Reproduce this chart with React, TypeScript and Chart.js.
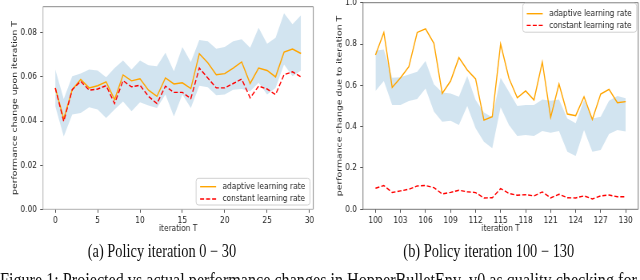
import React, { useEffect, useRef } from "react";
import { Chart, registerables } from "chart.js";
Chart.register(...registerables);

// ---------- data: panel (a) ----------
const iterA = [0, 1, 2, 3, 4, 5, 6, 7, 8, 9, 10, 11, 12, 13, 14, 15, 16, 17, 18, 19, 20, 21, 22, 23, 24, 25, 26, 27, 28, 29];
const adaptiveA = [0.055, 0.041, 0.0542, 0.0588, 0.055, 0.056, 0.0577, 0.0497, 0.0609, 0.0582, 0.0591, 0.054, 0.0512, 0.0595, 0.0568, 0.0573, 0.0547, 0.0705, 0.0664, 0.061, 0.0615, 0.064, 0.0668, 0.057, 0.064, 0.0629, 0.06, 0.0712, 0.0726, 0.0706];
const constantA = [0.055, 0.0398, 0.0542, 0.058, 0.054, 0.0545, 0.056, 0.0479, 0.0583, 0.0555, 0.0562, 0.0512, 0.0479, 0.0558, 0.053, 0.053, 0.0502, 0.064, 0.0595, 0.055, 0.055, 0.057, 0.059, 0.0505, 0.0558, 0.0545, 0.052, 0.061, 0.0623, 0.06];
const upperA = [0.0633, 0.05, 0.0603, 0.0615, 0.0633, 0.0629, 0.0598, 0.064, 0.0674, 0.0633, 0.0674, 0.0653, 0.0648, 0.0709, 0.0626, 0.0735, 0.0667, 0.0767, 0.0762, 0.0727, 0.0735, 0.0762, 0.077, 0.0732, 0.0823, 0.075, 0.0777, 0.0888, 0.0838, 0.0879];
const lowerA = [0.0467, 0.033, 0.0429, 0.0436, 0.0462, 0.0452, 0.0414, 0.0452, 0.0489, 0.0444, 0.0485, 0.047, 0.0459, 0.052, 0.0421, 0.052, 0.0459, 0.056, 0.0553, 0.0517, 0.052, 0.0542, 0.0545, 0.0535, 0.0573, 0.052, 0.055, 0.0656, 0.0603, 0.0629];
const xTicksA = [0, 5, 10, 15, 20, 25, 30];
const yTicksA = [0, 0.02, 0.04, 0.06, 0.08];
const yTickLabelsA = ["0.00", "0.02", "0.04", "0.06", "0.08"];

// ---------- data: panel (b) ----------
const iterB = [100, 101, 102, 103, 104, 105, 106, 107, 108, 109, 110, 111, 112, 113, 114, 115, 116, 117, 118, 119, 120, 121, 122, 123, 124, 125, 126, 127, 128, 129, 130];
const adaptiveB = [0.747, 0.856, 0.59, 0.637, 0.69, 0.856, 0.874, 0.803, 0.561, 0.621, 0.734, 0.674, 0.631, 0.432, 0.448, 0.8, 0.634, 0.54, 0.573, 0.529, 0.713, 0.445, 0.606, 0.461, 0.453, 0.545, 0.435, 0.558, 0.581, 0.516, 0.521];
const constantB = [0.102, 0.115, 0.081, 0.089, 0.097, 0.113, 0.115, 0.105, 0.074, 0.082, 0.092, 0.085, 0.081, 0.055, 0.056, 0.1, 0.077, 0.068, 0.071, 0.065, 0.084, 0.055, 0.073, 0.056, 0.055, 0.065, 0.05, 0.065, 0.069, 0.061, 0.061];
const upperB = [0.768, 0.774, 0.637, 0.639, 0.653, 0.666, 0.718, 0.605, 0.565, 0.561, 0.545, 0.645, 0.529, 0.468, 0.445, 0.637, 0.569, 0.5, 0.505, 0.505, 0.532, 0.526, 0.532, 0.44, 0.416, 0.529, 0.44, 0.448, 0.526, 0.548, 0.537];
const lowerB = [0.573, 0.621, 0.505, 0.505, 0.524, 0.534, 0.585, 0.473, 0.424, 0.429, 0.408, 0.5, 0.392, 0.327, 0.295, 0.494, 0.408, 0.355, 0.36, 0.355, 0.379, 0.371, 0.379, 0.279, 0.258, 0.384, 0.279, 0.287, 0.365, 0.384, 0.376];
const xTicksB = [100, 103, 106, 109, 112, 115, 118, 121, 124, 127, 130];
const yTicksB = [0, 0.2, 0.4, 0.6, 0.8, 1.0];
const yTickLabelsB = ["0.0", "0.2", "0.4", "0.6", "0.8", "1.0"];

// ---------- text ----------
const legendLabels = ["adaptive learning rate", "constant learning rate"];
const xTitle = "iteration T";
const yTitleA = "performance change upon iteration T";
const yTitleB = "performance change due to iteration T";
const captionA = "(a) Policy iteration 0 \u2212 30";
const captionB = "(b) Policy iteration 100 \u2212 130";
const figCaption = "Figure 1: Projected vs actual performance changes in HopperBulletEnv_v0 as quality checking for";

// ---------- style ----------
const SX = 0.8; // horizontal squeeze of the whole figure
const FAMILY = '"DejaVu Sans", sans-serif';
const FS = 9.3;
const TXT = "#262626";
const ORANGE = "#ffa500";
const RED = "#ff0000";
const BAND = "rgba(31,119,180,0.2)";
const CANVAS_H = 240;

const pts = (xs: number[], ys: number[]) => xs.map((x, i) => ({ x, y: ys[i] }));

const borderPlugin = {
  id: "mplBorder",
  afterDatasetsDraw(chart: any, _a: any, opts: any) {
    const { ctx, chartArea: c } = chart;
    ctx.save();
    ctx.lineWidth = 1;
    const seg = (x1: number, y1: number, x2: number, y2: number, col: string) => {
      ctx.strokeStyle = col;
      ctx.beginPath();
      ctx.moveTo(x1, y1);
      ctx.lineTo(x2, y2);
      ctx.stroke();
    };
    seg(c.left, c.top, c.right, c.top, opts.top);
    seg(c.right, c.top, c.right, c.bottom, opts.right);
    seg(c.left, c.bottom, c.right, c.bottom, opts.bottom);
    seg(c.left, c.top, c.left, c.bottom, opts.left);
    ctx.restore();
  },
};

const legendPlugin = {
  id: "mplLegend",
  afterDraw(chart: any, _a: any, opts: any) {
    const { ctx, chartArea: c } = chart;
    ctx.save();
    ctx.font = `${FS}px ${FAMILY}`;
    const tw = Math.max(...legendLabels.map((t) => ctx.measureText(t).width));
    const w = 5 + 20 + 8 + tw + 6;
    const h = opts.h;
    const x0 = c.right - opts.right - w;
    const y0 = opts.anchor === "bottom" ? c.bottom - opts.bottom - h : c.top + opts.top;
    const r = 3;
    ctx.beginPath();
    ctx.moveTo(x0 + r, y0);
    ctx.arcTo(x0 + w, y0, x0 + w, y0 + h, r);
    ctx.arcTo(x0 + w, y0 + h, x0, y0 + h, r);
    ctx.arcTo(x0, y0 + h, x0, y0, r);
    ctx.arcTo(x0, y0, x0 + w, y0, r);
    ctx.closePath();
    ctx.fillStyle = "rgba(255,255,255,0.8)";
    ctx.fill();
    ctx.strokeStyle = "#d0d0d0";
    ctx.lineWidth = 1;
    ctx.stroke();
    const rows = [
      { label: legendLabels[0], color: ORANGE, dash: [] as number[], lw: 1.4 },
      { label: legendLabels[1], color: RED, dash: [5, 2.5], lw: 1.4 },
    ];
    rows.forEach((row, i) => {
      const y = y0 + opts.row0 + i * opts.rowGap;
      ctx.strokeStyle = row.color;
      ctx.lineWidth = row.lw;
      ctx.setLineDash(row.dash);
      ctx.beginPath();
      ctx.moveTo(x0 + 5, y);
      ctx.lineTo(x0 + 25, y);
      ctx.stroke();
      ctx.setLineDash([]);
      ctx.fillStyle = TXT;
      ctx.textBaseline = "middle";
      ctx.textAlign = "left";
      ctx.fillText(row.label, x0 + 33, y);
    });
    ctx.restore();
  },
};

function makeConfig(p: any): any {
  const font = { family: FAMILY, size: FS };
  return {
    type: "line",
    data: {
      datasets: [
        { label: legendLabels[1], data: pts(p.xs, p.constant), borderColor: RED, borderWidth: 1.4, borderDash: [5, 2.5], pointRadius: 0, fill: false, tension: 0 },
        { label: legendLabels[0], data: pts(p.xs, p.adaptive), borderColor: ORANGE, borderWidth: 1.4, pointRadius: 0, fill: false, tension: 0 },
        { label: "upper", data: pts(p.xs, p.upper), borderColor: "rgba(0,0,0,0)", borderWidth: 0, pointRadius: 0, backgroundColor: BAND, fill: "+1", tension: 0 },
        { label: "lower", data: pts(p.xs, p.lower), borderColor: "rgba(0,0,0,0)", borderWidth: 0, pointRadius: 0, fill: false, tension: 0 },
      ],
    },
    options: {
      animation: false,
      responsive: true,
      maintainAspectRatio: false,
      events: [],
      layout: { padding: p.padding },
      plugins: {
        legend: { display: false },
        tooltip: { enabled: false },
        title: { display: false },
        mplBorder: p.border,
        mplLegend: p.legend,
      },
      scales: {
        x: {
          type: "linear",
          min: p.xMin,
          max: p.xMax,
          afterBuildTicks: (s: any) => {
            s.ticks = p.xTicks.map((v: number) => ({ value: v }));
          },
          afterFit: (s: any) => {
            s.height = p.xHeight;
            s.paddingLeft = 0;
            s.paddingRight = 0;
          },
          grid: { drawOnChartArea: false, drawTicks: true, tickLength: 3.5, color: p.tickColor, tickColor: p.tickColor },
          border: { display: false },
          ticks: { autoSkip: false, maxRotation: 0, minRotation: 0, padding: 2, color: TXT, font, callback: (v: any) => String(v) },
          title: { display: true, text: xTitle, color: TXT, font, padding: { top: 0, bottom: 5.9 } },
        },
        y: {
          type: "linear",
          min: p.yMin,
          max: p.yMax,
          afterBuildTicks: (s: any) => {
            s.ticks = p.yTicks.map((v: number) => ({ value: v }));
          },
          afterFit: (s: any) => {
            s.width = p.yWidth;
            s.paddingTop = 0;
            s.paddingBottom = 0;
          },
          grid: { drawOnChartArea: false, drawTicks: true, tickLength: 3.5, color: p.tickColor, tickColor: p.tickColor },
          border: { display: false },
          ticks: { autoSkip: false, padding: 4, color: TXT, font, callback: (_v: any, i: number) => p.yTickLabels[i] },
          title: { display: true, text: p.yTitle, color: TXT, font, padding: { top: p.yTitlePad, bottom: 0 } },
        },
      },
    },
    plugins: [borderPlugin, legendPlugin],
  };
}

const panelA = {
  xs: iterA, adaptive: adaptiveA, constant: constantA, upper: upperA, lower: lowerA,
  xMin: -1.45, xMax: 30.45, yMin: 0, yMax: 0.0918,
  xTicks: xTicksA, yTicks: yTicksA, yTickLabels: yTickLabelsA, yTitle: yTitleA,
  padding: { left: 0, top: 6.7, right: 8.4, bottom: 0 },
  yWidth: 53.75, xHeight: CANVAS_H - 209.3, yTitlePad: 12.9,
  tickColor: "#555",
  border: { top: "#8a8a8a", right: "#8a8a8a", bottom: "#b0b0b0", left: "#b0b0b0" },
  legend: { anchor: "bottom", right: 4.1, bottom: 4.3, h: 26.7, row0: 8.4, rowGap: 12.3 },
};

const panelB = {
  xs: iterB, adaptive: adaptiveB, constant: constantB, upper: upperB, lower: lowerB,
  xMin: 98.5, xMax: 131.5, yMin: 0, yMax: 1.0,
  xTicks: xTicksB, yTicks: yTicksB, yTickLabels: yTickLabelsB, yTitle: yTitleB,
  padding: { left: 0, top: 2.7, right: 2.2, bottom: 0 },
  yWidth: 53.75, xHeight: CANVAS_H - 209.3, yTitlePad: 18.6,
  tickColor: "#555",
  border: { top: "#777", right: "#777", bottom: "#777", left: "#777" },
  legend: { anchor: "top", right: 2, top: 0.5, h: 29, row0: 10.5, rowGap: 11.7 },
};

export default function App() {
  const refA = useRef<HTMLCanvasElement>(null);
  const refB = useRef<HTMLCanvasElement>(null);
  useEffect(() => {
    const a = new Chart(refA.current as HTMLCanvasElement, makeConfig(panelA));
    const b = new Chart(refB.current as HTMLCanvasElement, makeConfig(panelB));
    return () => {
      a.destroy();
      b.destroy();
    };
  }, []);
  const serif = '"Liberation Serif", "Times New Roman", serif';
  return (
    <div style={{ position: "absolute", left: 0, top: 0, width: 640, height: 280, overflow: "hidden", background: "#fff" }}>
      <div style={{ position: "absolute", left: 0, top: 0, width: 800, height: 280, transform: `scaleX(${SX})`, transformOrigin: "0 0" }}>
        <div style={{ position: "absolute", left: 0, top: 0, width: 400, height: CANVAS_H }}>
          <canvas ref={refA} />
        </div>
        <div style={{ position: "absolute", left: 400, top: 0, width: 400, height: CANVAS_H }}>
          <canvas ref={refB} />
        </div>
        <div style={{ position: "absolute", left: 202.5 - 200, top: 242.4, width: 400, textAlign: "center", fontFamily: serif, fontSize: 18, lineHeight: "18px", color: "#111", whiteSpace: "nowrap" }}>
          {captionA}
        </div>
        <div style={{ position: "absolute", left: 611 - 200, top: 242.4, width: 400, textAlign: "center", fontFamily: serif, fontSize: 18, lineHeight: "18px", color: "#111", whiteSpace: "nowrap" }}>
          {captionB}
        </div>
        <div style={{ position: "absolute", left: 0, top: 270.4, fontFamily: serif, fontSize: 20.2, lineHeight: "20.2px", color: "#111", whiteSpace: "nowrap" }}>
          {figCaption}
        </div>
      </div>
    </div>
  );
}
